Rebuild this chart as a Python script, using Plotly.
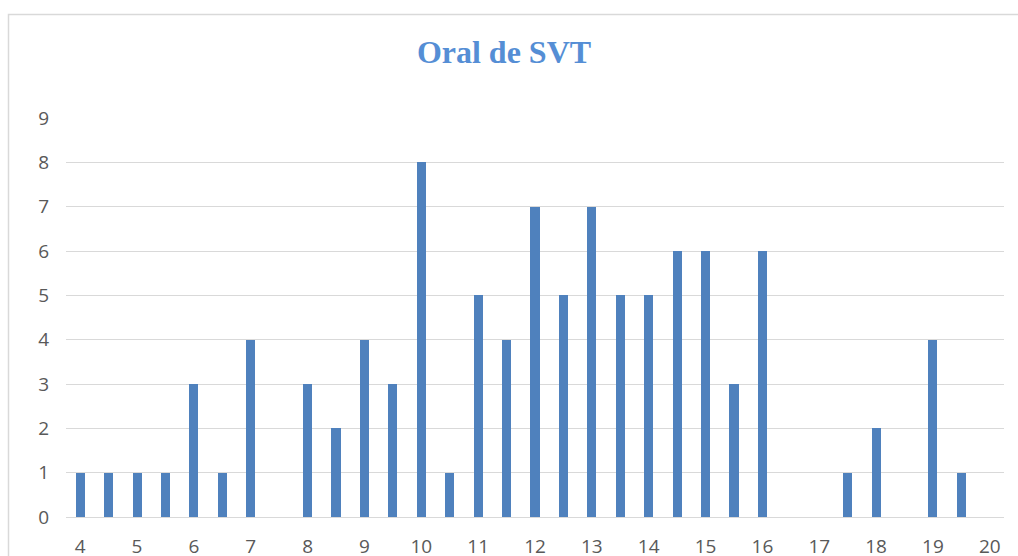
import plotly.graph_objects as go

notes = [4, 4.5, 5, 5.5, 6, 6.5, 7, 7.5, 8, 8.5, 9, 9.5, 10, 10.5, 11, 11.5,
         12, 12.5, 13, 13.5, 14, 14.5, 15, 15.5, 16, 16.5, 17, 17.5, 18, 18.5,
         19, 19.5, 20]
effectifs = [1, 1, 1, 1, 3, 1, 4, 0, 3, 2, 4, 3, 8, 1, 5, 4,
             7, 5, 7, 5, 5, 6, 6, 3, 6, 0, 0, 1, 2, 0,
             4, 1, 0]
x_ticks = list(range(4, 21))
y_ticks = list(range(0, 10))
title_text = "Oral de SVT"

W, H = 1018, 556
L, R, T, B = 66, 14, 118, 39
pw, ph = W - L - R, H - T - B

fig = go.Figure()
fig.add_trace(go.Bar(x=notes, y=effectifs, width=0.16,
                     marker=dict(color="#4F81BD", line=dict(width=0))))

def px_to_paper_x(px):
    return (px - L) / pw

def px_to_paper_y(py):
    return (H - B - py) / ph

fig.update_layout(
    width=W, height=H,
    margin=dict(l=L, r=R, t=T, b=B, autoexpand=False),
    paper_bgcolor="white", plot_bgcolor="white",
    showlegend=False,
    title=dict(text="<b>" + title_text + "</b>", x=px_to_paper_x(504), xref="paper",
               y=1 - 52 / H, yref="container", xanchor="center", yanchor="middle",
               font=dict(family="Liberation Serif", size=32, color="#558ED5")),
    xaxis=dict(range=[3.75, 20.25], tickvals=x_ticks, ticktext=[str(v) for v in x_ticks],
               showgrid=False, zeroline=False, showline=False, ticks="",
               automargin=False,
               tickfont=dict(family="Open Sans", size=19, color="#595959"),
               ticklabelstandoff=16),
    yaxis=dict(range=[0, 9], tickvals=y_ticks, showgrid=True, gridcolor="#D9D9D9",
               gridwidth=1, zeroline=True, zerolinecolor="#D9D9D9", zerolinewidth=1,
               showline=False, ticks="", automargin=False,
               tickfont=dict(family="Open Sans", size=19, color="#595959"),
               ticklabelstandoff=16),
    bargap=0,
)

fig.add_shape(type="rect", xref="paper", yref="paper",
              x0=px_to_paper_x(8.5), x1=px_to_paper_x(1030),
              y0=px_to_paper_y(600), y1=px_to_paper_y(14.5),
              line=dict(color="#D9D9D9", width=1.5), fillcolor="rgba(0,0,0,0)",
              layer="below")

fig.write_html("out.html", config={"displayModeBar": False},
               post_script="document.body.style.margin='0';document.body.style.overflow='hidden';")
